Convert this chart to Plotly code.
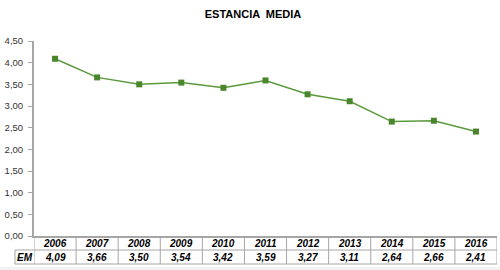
import plotly.graph_objects as go

years = ["2006", "2007", "2008", "2009", "2010", "2011", "2012", "2013", "2014", "2015", "2016"]
em = [4.09, 3.66, 3.50, 3.54, 3.42, 3.59, 3.27, 3.11, 2.64, 2.66, 2.41]
row_label = "EM"
title = "ESTANCIA  MEDIA"

W, H = 500, 270
L, R, T, B = 34, 3, 41, 34
ph = H - T - B
pw = W - L - R

def py(pix):
    # pixel y -> paper y
    return (H - B - pix) / ph

def px(pix):
    return (pix - L) / pw

fig = go.Figure()
fig.add_trace(go.Scatter(
    x=list(range(len(years))), y=em, mode="lines+markers",
    line=dict(color="#5b9a3c", width=1.5),
    marker=dict(symbol="square", size=6, color="#4a862c"),
    hoverinfo="skip", showlegend=False,
))

shapes = []
grey = "#a6a6a6"
n = len(years)
y_top = py(236)
y_mid = py(250)
y_bot = py(264)
# horizontal table lines
shapes.append(dict(type="line", xref="paper", yref="paper", x0=px(15), x1=1, y0=y_mid, y1=y_mid,
                   line=dict(color=grey, width=1)))
shapes.append(dict(type="line", xref="paper", yref="paper", x0=px(15), x1=1, y0=y_bot, y1=y_bot,
                   line=dict(color=grey, width=1)))
# vertical lines
for i in range(n + 1):
    shapes.append(dict(type="line", xref="x", yref="paper", x0=i - 0.5, x1=i - 0.5, y0=0, y1=y_bot,
                       line=dict(color=grey, width=1)))
shapes.append(dict(type="line", xref="paper", yref="paper", x0=px(15), x1=px(15), y0=y_mid, y1=y_bot,
                   line=dict(color=grey, width=1)))
# bottom light strip
shapes.append(dict(type="rect", xref="paper", yref="paper", x0=px(0), x1=px(W), y0=py(270), y1=py(267),
                   line=dict(width=0), fillcolor="#f2f2f2", layer="below"))

annotations = []
font_tbl = dict(family="Liberation Sans, Arial, sans-serif", size=10, color="#000000", weight="bold", style="italic")
for i, (yr, v) in enumerate(zip(years, em)):
    annotations.append(dict(x=i, y=(y_top + y_mid) / 2, xref="x", yref="paper", text=yr, showarrow=False,
                            font=font_tbl, xanchor="center", yanchor="middle"))
    annotations.append(dict(x=i, y=(y_mid + y_bot) / 2, xref="x", yref="paper",
                            text=f"{v:.2f}".replace(".", ","), showarrow=False,
                            font=font_tbl, xanchor="center", yanchor="middle"))
annotations.append(dict(x=px(24.5), y=(y_mid + y_bot) / 2, xref="paper", yref="paper", text=row_label,
                        showarrow=False, font=font_tbl, xanchor="center", yanchor="middle"))

fig.update_layout(
    width=W, height=H,
    margin=dict(l=L, r=R, t=T, b=B, pad=0),
    paper_bgcolor="white", plot_bgcolor="white",
    separators=",.",
    title=dict(text=title, x=(253) / W, xanchor="center", y=1 - 14 / H, yanchor="middle",
               font=dict(family="Liberation Sans, Arial, sans-serif", size=11, color="#000000", weight="bold")),
    xaxis=dict(range=[-0.5, n - 0.5], showticklabels=False, showgrid=False, zeroline=False,
               showline=True, linecolor=grey, linewidth=2, ticks="", fixedrange=True),
    yaxis=dict(range=[0, 4.5], dtick=0.5, tickformat=".2f", showgrid=False, zeroline=False,
               showline=True, linecolor=grey, linewidth=2, ticks="outside", ticklen=4,
               tickcolor=grey, tickwidth=1, ticklabelstandoff=3,
               tickfont=dict(family="Liberation Sans, Arial, sans-serif", size=9.5, color="#333333")),
    shapes=shapes, annotations=annotations,
)
fig.write_html("out.html")
